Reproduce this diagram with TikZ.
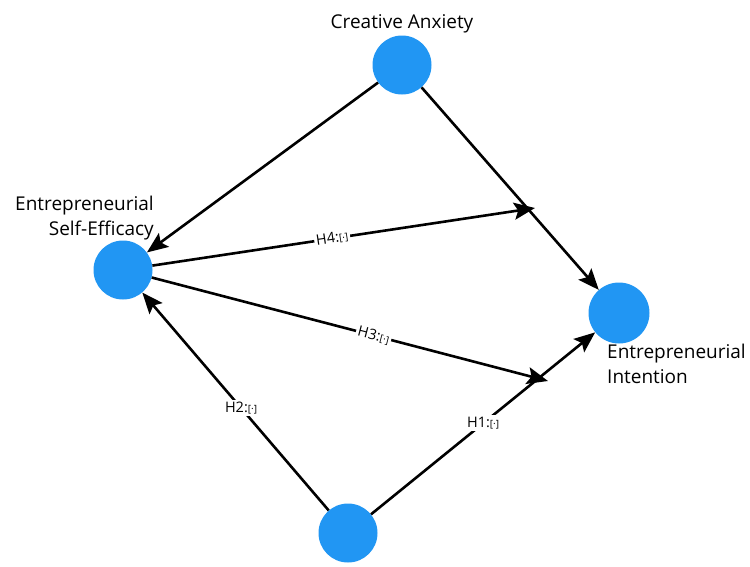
\documentclass[tikz,border=0pt]{standalone}
\usepackage{fontspec}
\setmainfont{Open Sans}
\usetikzlibrary{positioning, arrows.meta}
\definecolor{nodeblue}{RGB}{33, 150, 243}

\tikzset{
  construct/.style={circle, fill=nodeblue, minimum size=59pt, inner sep=0pt},
  conlabel/.style={font=\fontsize{19}{25}\selectfont, inner sep=1pt},
  path/.style={line width=2.6pt, -{Stealth[length=21pt, width=17pt, inset=4pt]}},
  hyp/.style={fill=white, inner sep=2pt, font=\fontsize{14.5}{16}\selectfont}
}
\newcommand{\hlab}[1]{#1:{\fontsize{10}{11}\selectfont[·]}}

\begin{document}
\begin{tikzpicture}[x=1pt, y=-1pt]
\useasboundingbox (0,0) rectangle (750,566);
% constructs
\node[construct] (ca) at (402,65) {};
\node[construct] (ese) at (123,270) {};
\node[construct, minimum size=61pt] (ei) at (619,313) {};
\node[construct] (bt) at (348,533) {};
\node[conlabel, above=1pt of ca] (ca-lbl) {Creative Anxiety};
\node[conlabel, anchor=south east, align=right] (ese-lbl) at (155,241) {Entrepreneurial\\Self-Efficacy};
\node[conlabel, anchor=north west, align=left] (ei-lbl) at (606,343) {Entrepreneurial\\Intention};
% moderation points
\coordinate (h4end) at (535,208);
\coordinate (h3end) at (548,381);
% paths
\draw[path] (ca) -- (ese);
\draw[path] (ca) -- (ei);
\draw[path] (bt) -- node[hyp, pos=0.47] {\hlab{H2}} (ese);
\draw[path] (bt) -- node[hyp, pos=0.5] {\hlab{H1}} (ei);
\draw[path] (ese) -- node[hyp, sloped, pos=0.47] {\hlab{H4}} (h4end);
\draw[path] (ese) -- node[hyp, sloped, pos=0.56] {\hlab{H3}} (h3end);
\end{tikzpicture}
\end{document}
